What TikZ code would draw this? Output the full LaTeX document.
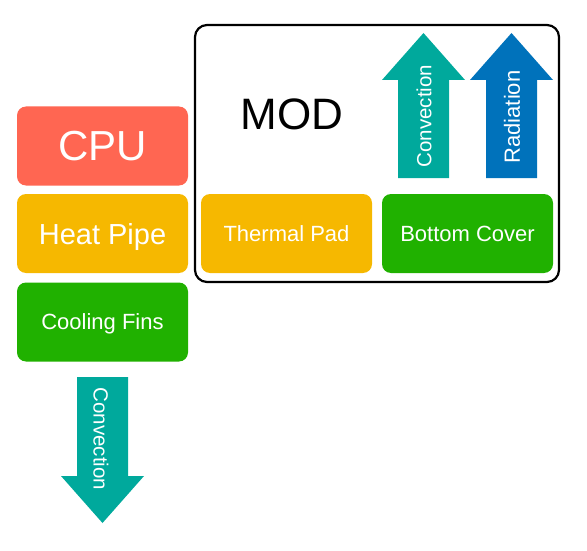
\documentclass[tikz,border=0pt]{standalone}
\usepackage{fontspec}
\setmainfont{Liberation Sans}
\usetikzlibrary{calc}

\definecolor{cpured}{HTML}{FF6652}
\definecolor{pipeorange}{HTML}{F6B800}
\definecolor{fingreen}{HTML}{20B100}
\definecolor{convteal}{HTML}{00A99C}
\definecolor{radblue}{HTML}{0072BB}

\begin{document}
\begin{tikzpicture}[x=1pt,y=-1pt,
    block/.style={rounded corners=9pt, minimum width=171pt, minimum height=79pt,
        inner sep=0pt, text=white, text depth=0pt},
    flowtext/.style={text=white, inner sep=0pt}]
    \useasboundingbox (0,0) rectangle (587,551);

    % Sizes of the heat flow arrows
    \def\sw{25.5} % half width of the shaft
    \def\hw{41.5} % half width of the head
    \def\hl{47}   % length of the head

    % Left column
    \node[block, fill=cpured, font=\fontsize{42}{42}\selectfont] (cpu) at (102.5,146) {CPU};
    \node[block, fill=pipeorange, font=\fontsize{29}{29}\selectfont] (pipe) at (102.5,233.5) {Heat Pipe};
    \node[block, fill=fingreen, font=\fontsize{22}{22}\selectfont] (fins) at (102.5,322) {Cooling Fins};

    % MOD enclosure
    \draw[line width=2.2pt, rounded corners=12pt] (195,25) rectangle (559,282);
    \node[font=\fontsize{44}{44}\selectfont] (mod) at (292,114) {MOD};
    \node[block, fill=pipeorange, font=\fontsize{22}{22}\selectfont] (pad) at (286.5,233.5) {Thermal Pad};
    \node[block, fill=fingreen, font=\fontsize{22}{22}\selectfont] (cover) at (467.5,233.5) {Bottom Cover};

    % Convection out of the bottom cover
    \coordinate (C1) at (423.5,33);
    \fill[convteal] (C1) -- ++(\hw,\hl) -- ++(-\hw+\sw,0) -- ($(C1)+(\sw,145)$)
        -- ++(-2*\sw,0) -- ($(C1)+(-\sw,\hl)$) -- ++(\sw-\hw,0) -- cycle;
    \node[flowtext, rotate=90, font=\fontsize{20.5}{20.5}\selectfont] (convup) at (424,116) {Convection};

    % Radiation out of the bottom cover
    \coordinate (C2) at (511.5,33);
    \fill[radblue] (C2) -- ++(\hw,\hl) -- ++(-\hw+\sw,0) -- ($(C2)+(\sw,145)$)
        -- ++(-2*\sw,0) -- ($(C2)+(-\sw,\hl)$) -- ++(\sw-\hw,0) -- cycle;
    \node[flowtext, rotate=90, font=\fontsize{22}{22}\selectfont] (rad) at (512,117) {Radiation};

    % Convection out of the cooling fins
    \coordinate (C3) at (102.5,523);
    \fill[convteal] (C3) -- ++(\hw,-\hl) -- ++(-\hw+\sw,0) -- ($(C3)+(\sw,-146)$)
        -- ++(-2*\sw,0) -- ($(C3)+(-\sw,-\hl)$) -- ++(\sw-\hw,0) -- cycle;
    \node[flowtext, rotate=-90, font=\fontsize{20.5}{20.5}\selectfont] (convdown) at (101,439) {Convection};
\end{tikzpicture}
\end{document}
